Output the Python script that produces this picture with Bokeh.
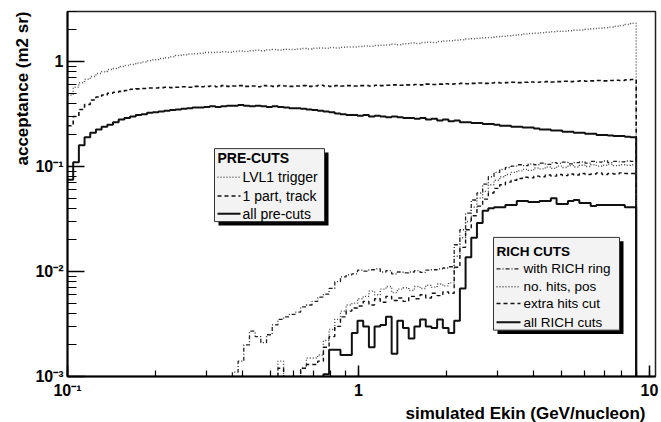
import numpy as np
from bokeh.plotting import figure
from bokeh.models import Label, BoxAnnotation, CustomJSTickFormatter, Range1d, Title
from bokeh.embed import file_html
from bokeh.resources import INLINE

# ---------------- data ----------------
E_MIN, E_MAX, N_BINS = 0.1, 9.0, 100          # histogram binning (GeV/nucleon), log bins

lvl1_trigger = [
    0.48, 0.57, 0.63, 0.68, 0.72, 0.77, 0.80, 0.84, 0.86, 0.90,
    0.92, 0.94, 0.97, 0.99, 1.02, 1.04, 1.07, 1.09, 1.11, 1.14,
    1.16, 1.18, 1.19, 1.20, 1.22, 1.22, 1.23, 1.24, 1.23, 1.25,
    1.26, 1.25, 1.27, 1.28, 1.27, 1.29, 1.30, 1.29, 1.31, 1.30,
    1.32, 1.33, 1.32, 1.34, 1.35, 1.34, 1.36, 1.35, 1.37, 1.38,
    1.38, 1.39, 1.41, 1.40, 1.42, 1.43, 1.44, 1.46, 1.45, 1.48,
    1.50, 1.49, 1.52, 1.53, 1.52, 1.55, 1.57, 1.58, 1.60, 1.61,
    1.64, 1.65, 1.67, 1.69, 1.70, 1.72, 1.74, 1.76, 1.78, 1.80,
    1.83, 1.85, 1.86, 1.88, 1.90, 1.92, 1.94, 1.95, 1.97, 1.99,
    2.00, 2.03, 2.05, 2.08, 2.10, 2.13, 2.17, 2.21, 2.26, 2.32,
]
one_part_track = [
    0.245, 0.30, 0.35, 0.39, 0.43, 0.46, 0.48, 0.50, 0.51, 0.52,
    0.53, 0.545, 0.55, 0.555, 0.56, 0.56, 0.565, 0.57, 0.565, 0.57,
    0.575, 0.57, 0.58, 0.575, 0.58, 0.585, 0.575, 0.59, 0.58, 0.585,
    0.59, 0.58, 0.585, 0.575, 0.59, 0.585, 0.58, 0.59, 0.585, 0.58,
    0.585, 0.59, 0.58, 0.585, 0.595, 0.585, 0.58, 0.59, 0.585, 0.59,
    0.585, 0.59, 0.59, 0.585, 0.595, 0.59, 0.595, 0.60, 0.595, 0.60,
    0.60, 0.605, 0.60, 0.61, 0.605, 0.61, 0.615, 0.61, 0.615, 0.62,
    0.615, 0.62, 0.625, 0.62, 0.625, 0.63, 0.625, 0.63, 0.635, 0.63,
    0.635, 0.64, 0.635, 0.64, 0.645, 0.64, 0.645, 0.65, 0.645, 0.65,
    0.655, 0.65, 0.655, 0.66, 0.655, 0.66, 0.665, 0.66, 0.67, 0.675,
]
all_pre_cuts = [
    0.075, 0.11, 0.16, 0.19, 0.21, 0.225, 0.24, 0.25, 0.265, 0.28,
    0.29, 0.30, 0.31, 0.315, 0.325, 0.33, 0.335, 0.34, 0.345, 0.35,
    0.355, 0.36, 0.365, 0.365, 0.37, 0.375, 0.37, 0.375, 0.38, 0.38,
    0.385, 0.38, 0.375, 0.38, 0.375, 0.37, 0.375, 0.37, 0.365, 0.36,
    0.36, 0.355, 0.35, 0.345, 0.34, 0.335, 0.33, 0.32, 0.315, 0.31,
    0.31, 0.305, 0.31, 0.30, 0.305, 0.30, 0.295, 0.30, 0.295, 0.29,
    0.29, 0.285, 0.29, 0.28, 0.285, 0.275, 0.28, 0.27, 0.275, 0.265,
    0.265, 0.26, 0.26, 0.255, 0.255, 0.25, 0.245, 0.245, 0.24, 0.24,
    0.235, 0.235, 0.23, 0.225, 0.225, 0.22, 0.22, 0.215, 0.215, 0.21,
    0.21, 0.205, 0.205, 0.20, 0.20, 0.198, 0.195, 0.195, 0.192, 0.19,
]
with_rich_ring = [
    0, 0, 0, 0, 0, 0, 0, 0, 0, 0,
    0, 0, 0, 0, 0, 0, 0, 0, 0, 0,
    0, 0, 0, 0, 0, 0, 0, 0, 0, 0.0011,
    0.0014, 0.0020, 0.0027, 0.0024, 0.0021, 0.0025, 0.0031, 0.0035, 0.0037, 0.0039,
    0.0041, 0.0046, 0.0048, 0.0052, 0.0057, 0.0061, 0.0069, 0.0080, 0.0089, 0.0093,
    0.0095, 0.0103, 0.0101, 0.0104, 0.0106, 0.0099, 0.0102, 0.0095, 0.0099, 0.0097,
    0.0099, 0.0102, 0.0098, 0.0103, 0.0104, 0.0106, 0.0108, 0.0111, 0.018, 0.025,
    0.036, 0.048, 0.056, 0.068, 0.080, 0.088, 0.094, 0.098, 0.101, 0.104,
    0.102, 0.106, 0.104, 0.108, 0.105, 0.109, 0.107, 0.110, 0.106, 0.109,
    0.111, 0.108, 0.112, 0.110, 0.113, 0.109, 0.112, 0.111, 0.113, 0.112,
]
no_hits_pos = [
    0, 0, 0, 0, 0, 0, 0, 0, 0, 0,
    0, 0, 0, 0, 0, 0, 0, 0, 0, 0,
    0, 0, 0, 0, 0, 0, 0, 0, 0, 0,
    0, 0, 0, 0, 0, 0, 0, 0.0014, 0, 0,
    0, 0.0012, 0.0015, 0.0015, 0.0016, 0.0022, 0.0028, 0.0035, 0.0042, 0.0048,
    0.0050, 0.0055, 0.0058, 0.0065, 0.0060, 0.0068, 0.0072, 0.0063, 0.0068, 0.0070,
    0.0066, 0.0072, 0.0069, 0.0074, 0.0071, 0.0076, 0.0073, 0.0078, 0.014, 0.021,
    0.030, 0.041, 0.050, 0.058, 0.067, 0.074, 0.080, 0.084, 0.088, 0.091,
    0.094, 0.092, 0.097, 0.095, 0.099, 0.096, 0.101, 0.098, 0.102, 0.099,
    0.103, 0.100, 0.104, 0.101, 0.103, 0.105, 0.102, 0.104, 0.103, 0.104,
]
extra_hits_cut = [
    0, 0, 0, 0, 0, 0, 0, 0, 0, 0,
    0, 0, 0, 0, 0, 0, 0, 0, 0, 0,
    0, 0, 0, 0, 0, 0, 0, 0, 0, 0,
    0, 0, 0, 0, 0, 0, 0, 0.0012, 0, 0,
    0, 0.0012, 0.0013, 0.0013, 0.0014, 0.0019, 0.0024, 0.0030, 0.0037, 0.0042,
    0.0045, 0.0047, 0.0052, 0.0048, 0.0055, 0.0051, 0.0058, 0.0053, 0.0056, 0.0052,
    0.0058, 0.0055, 0.0060, 0.0056, 0.0062, 0.0059, 0.0064, 0.0062, 0.011, 0.017,
    0.025, 0.034, 0.042, 0.049, 0.056, 0.062, 0.067, 0.071, 0.074, 0.077,
    0.079, 0.078, 0.081, 0.080, 0.083, 0.081, 0.084, 0.082, 0.085, 0.083,
    0.086, 0.084, 0.085, 0.087, 0.084, 0.086, 0.085, 0.087, 0.086, 0.086,
]
all_rich_cuts = [
    0, 0, 0, 0, 0, 0, 0, 0, 0, 0,
    0, 0, 0, 0, 0, 0, 0, 0, 0, 0,
    0, 0, 0, 0, 0, 0, 0, 0, 0, 0,
    0, 0, 0, 0, 0, 0, 0, 0, 0, 0,
    0, 0, 0, 0, 0, 0.00105, 0.0018, 0.0018, 0.0016, 0.0016,
    0.0026, 0.0034, 0.0030, 0.0019, 0.0030, 0.0031, 0.0037, 0.00165, 0.0034, 0.0029,
    0.0023, 0.0030, 0.0035, 0.0030, 0.0029, 0.0035, 0.0029, 0.0026, 0.0034, 0.0069,
    0.0137, 0.021, 0.029, 0.038, 0.040, 0.041, 0.041, 0.043, 0.043, 0.047,
    0.047, 0.046, 0.046, 0.047, 0.047, 0.050, 0.044, 0.044, 0.047, 0.048,
    0.045, 0.045, 0.042, 0.043, 0.043, 0.043, 0.043, 0.043, 0.041, 0.041,
]

pre_labels = ["LVL1 trigger", "1 part, track", "all pre-cuts"]
rich_labels = ["with RICH ring", "no. hits, pos", "extra hits cut", "all RICH cuts"]
x_title = "simulated Ekin (GeV/nucleon)"
y_title = "acceptance (m2 sr)"

# ---------------- layout ----------------
W, H = 661, 422
FL, FR, FT, FB = 67, 655, 11, 381
X_LO, X_HI = 0.1, 10 ** (-1 + (FR - FL) / 291.0)
Y_LO, Y_HI = 1e-3, 3.0
FLOOR = 1e-7
FONT = "Liberation Sans"

lx0, lx1 = np.log10(X_LO), np.log10(X_HI)
ly0, ly1 = np.log10(Y_LO), np.log10(Y_HI)


def dx(px):
    return 10 ** (lx0 + (px - FL) / (FR - FL) * (lx1 - lx0))


def dy(py):
    return 10 ** (ly1 - (py - FT) / (FB - FT) * (ly1 - ly0))


edges = np.logspace(np.log10(E_MIN), np.log10(E_MAX), N_BINS + 1)


def step_xy(vals):
    v = np.maximum(np.asarray(vals, dtype=float), FLOOR)
    xs = np.repeat(edges, 2)[1:-1]
    ys = np.repeat(v, 2)
    xs = np.append(xs, edges[-1])
    ys = np.append(ys, FLOOR)
    return xs, ys


p = figure(width=W, height=H, x_axis_type="log", y_axis_type="log",
           x_range=Range1d(X_LO, X_HI), y_range=Range1d(Y_LO, Y_HI),
           output_backend="svg", toolbar_location=None,
           min_border_left=FL, min_border_right=W - FR,
           min_border_top=FT, min_border_bottom=H - FB)
p.title.visible = False
p.xgrid.visible = False
p.ygrid.visible = False
p.background_fill_color = "white"
p.border_fill_color = "white"
p.outline_line_color = "#222222"
p.outline_line_width = 1.5

fmt = CustomJSTickFormatter(code="""
const e = Math.round(Math.log10(tick));
if (e === 0) return "1";
if (e === 1) return "10";
const sup = {"-": "\u207b", "0": "\u2070", "1": "\u00b9", "2": "\u00b2", "3": "\u00b3"};
return "10" + String(e).split("").map(c => sup[c]).join("");
""")

xa, ya = p.xaxis[0], p.yaxis[0]
for ax in (xa, ya):
    ax.formatter = fmt
    ax.axis_line_color = "black"
    ax.axis_line_width = 2
    ax.major_tick_line_color = "black"
    ax.minor_tick_line_color = "black"
    ax.major_tick_line_width = 1.5
    ax.minor_tick_line_width = 1.2
    ax.major_tick_out = 0
    ax.minor_tick_out = 0
    ax.major_label_text_font = FONT
    ax.major_label_text_font_style = "bold"
    ax.major_label_text_font_size = "16px"
    ax.major_label_text_color = "black"

ya.major_tick_in = 17
ya.minor_tick_in = 9
ya.major_label_standoff = 4
xa.major_tick_in = 11
xa.minor_tick_in = 6
xa.major_label_standoff = 5


# axis titles as side titles, right-aligned at the far end of each axis (ROOT style)
def side_title(text, side, standoff, offset):
    t = Title(text=text, align="right", text_font=FONT, text_font_style="bold",
              text_font_size="17px", text_color="black")
    try:
        t.standoff = standoff
    except ValueError:
        t.standoff = 0
    try:
        t.offset = offset
    except ValueError:
        pass
    p.add_layout(t, side)


side_title(x_title, "below", 0, 10)
side_title(y_title, "left", 2, 0)

series = [
    (lvl1_trigger, "1 2", 1.5, "#555555"),
    (one_part_track, "4 3", 1.6, "#111111"),
    (all_pre_cuts, "solid", 2.0, "#111111"),
    (with_rich_ring, "4 2 1 2", 1.3, "#222222"),
    (no_hits_pos, "1 2", 1.4, "#444444"),
    (extra_hits_cut, "4 3", 1.4, "#111111"),
    (all_rich_cuts, "solid", 2.0, "#111111"),
]
for vals, dash, lw, col in series:
    xs, ys = step_xy(vals)
    p.line(xs, ys, line_color=col, line_width=lw, line_dash=dash)


# ---------------- legends (boxes with drop shadow) ----------------
def legend_box(left, top, right, bottom, title, labels, styles, title_mid, row_mids,
               sample_x0, sample_x1, text_x, size):
    p.add_layout(BoxAnnotation(left=dx(left + 4), right=dx(right + 4), top=dy(top + 4),
                               bottom=dy(bottom + 4), fill_color="black", fill_alpha=1.0,
                               line_alpha=0))
    p.add_layout(BoxAnnotation(left=dx(left), right=dx(right), top=dy(top), bottom=dy(bottom),
                               fill_color="#f3f3f3", fill_alpha=1.0, line_color="#333333",
                               line_width=1, line_alpha=1.0))
    p.add_layout(Label(x=dx(left + 3), y=dy(title_mid), text=title, text_font=FONT,
                       text_font_style="bold", text_font_size=size, text_color="black",
                       text_baseline="middle", text_align="left"))
    for lab, (dash, lw, col), mid in zip(labels, styles, row_mids):
        yy = dy(mid)
        p.segment(x0=[dx(sample_x0)], y0=[yy], x1=[dx(sample_x1)], y1=[yy],
                  line_color=col, line_width=lw, line_dash=dash, level="overlay")
        p.add_layout(Label(x=dx(text_x), y=dy(mid), text=lab, text_font=FONT,
                           text_font_size=size, text_color="black",
                           text_baseline="middle", text_align="left"))


legend_box(214, 150, 324, 224, "PRE-CUTS", pre_labels,
           [(s[1], s[2], s[3]) for s in series[:3]], 159, [179, 198, 216],
           217, 240, 242, "14px")
legend_box(493, 240, 619, 334, "RICH CUTS", rich_labels,
           [(s[1], s[2], s[3]) for s in series[3:]], 254, [272, 290, 307, 326],
           496, 520, 523, "13.5px")

open("out.html", "w").write(file_html(p, INLINE))
